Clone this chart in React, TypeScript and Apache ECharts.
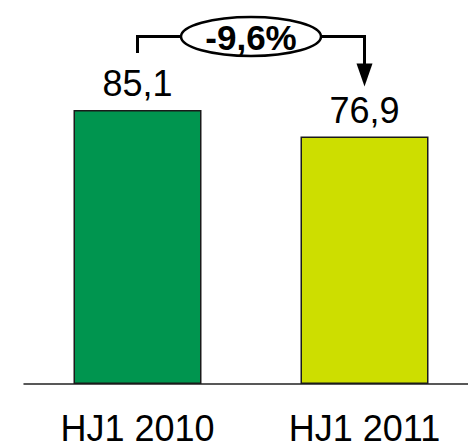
import React, { useEffect, useRef } from "react";
import * as echarts from "echarts";

const categories = ["HJ1 2010", "HJ1 2011"];
const values = [85.1, 76.9];
const barColors = ["#00954F", "#CDDE00"];
const yMax = 100;

const FONT = "'Liberation Sans', Arial, sans-serif";

export default function App() {
  const ref = useRef<HTMLDivElement>(null);
  useEffect(() => {
    const chart = echarts.init(ref.current!, null, { renderer: "svg" });
    const fmt = (v: number) => v.toFixed(1).replace(".", ",");
    chart.setOption({
      animation: false,
      grid: { left: 24, top: 62, bottom: 63, width: 454, outerBoundsMode: "none", containLabel: false },
      xAxis: {
        type: "category",
        data: categories,
        axisLine: { lineStyle: { color: "#222", width: 1.5 } },
        axisTick: { show: false },
        axisLabel: { fontSize: 36, color: "#000", fontFamily: FONT, margin: 26 },
      },
      yAxis: { type: "value", min: 0, max: yMax, show: false },
      series: [
        {
          type: "bar",
          barWidth: 128,
          data: values.map((v, i) => ({ value: v, itemStyle: { color: barColors[i] } })),
          itemStyle: { borderColor: "#1a1a1a", borderWidth: 1.5 },
          label: {
            show: true,
            position: "top",
            distance: 8,
            formatter: (p: any) => fmt(p.value),
            fontSize: 36,
            color: "#000",
            fontFamily: FONT,
          },
        },
      ],
    });
    const p1 = chart.convertToPixel({ gridIndex: 0 }, [0, values[0]]) as number[];
    const p2 = chart.convertToPixel({ gridIndex: 0 }, [1, values[1]]) as number[];
    const change = ((values[1] - values[0]) / values[0]) * 100;
    const changeText = (change >= 0 ? "+" : "") + change.toFixed(1).replace(".", ",") + "%";
    const cx = (p1[0] + p2[0]) / 2;
    const cy = 36.5;
    const rx = 70;
    const ry = 19.5;
    const leftBottom = p1[1] - 57;
    const tip = p2[1] - 50;
    chart.setOption({
      graphic: [
        {
          type: "polyline",
          shape: { points: [[p1[0], leftBottom], [p1[0], cy], [cx - rx, cy]] },
          style: { stroke: "#000", lineWidth: 3, fill: null },
        },
        {
          type: "polyline",
          shape: { points: [[cx + rx, cy], [p2[0], cy], [p2[0], tip - 22]] },
          style: { stroke: "#000", lineWidth: 3, fill: null },
        },
        {
          type: "polygon",
          shape: { points: [[p2[0] - 8, tip - 23], [p2[0] + 8, tip - 23], [p2[0], tip]] },
          style: { fill: "#000" },
        },
        {
          type: "ellipse",
          shape: { cx, cy, rx, ry },
          style: { fill: "#fff", stroke: "#000", lineWidth: 2.5 },
        },
        {
          type: "text",
          x: cx,
          y: cy + 1,
          style: {
            text: changeText,
            fontSize: 35,
            fontWeight: "bold",
            fontFamily: FONT,
            fill: "#000",
            align: "center",
            verticalAlign: "middle",
          },
        },
      ],
    });
    return () => chart.dispose();
  }, []);
  return (
    <div
      ref={ref}
      style={{ position: "absolute", left: 0, top: 0, width: 468, height: 447 }}
    />
  );
}
